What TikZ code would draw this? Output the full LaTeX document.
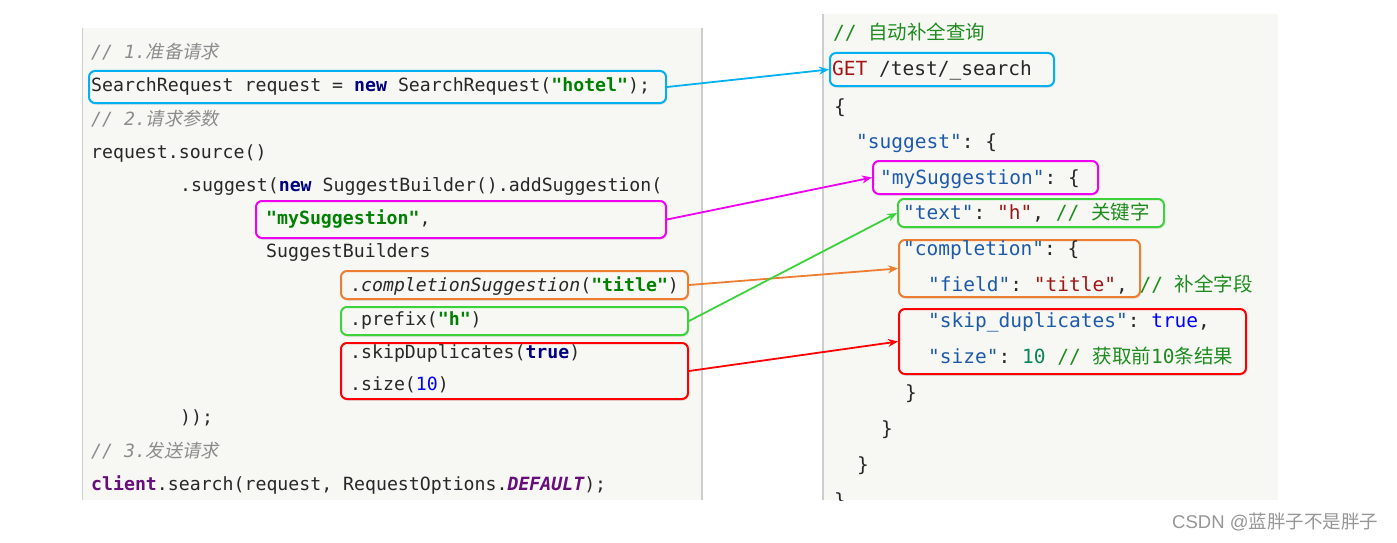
\documentclass[tikz,border=0pt]{standalone}
\usepackage{fontspec}
\setmainfont{Liberation Sans}
\setmonofont{DejaVu Sans Mono}
\newfontfamily\cjk{Noto Sans CJK SC}
\newfontfamily\cjkit{Noto Sans CJK SC}[FakeSlant=0.2]
\usetikzlibrary{arrows.meta,shadows}
\definecolor{panelbg}{RGB}{247,248,244}
\definecolor{panelline}{RGB}{205,205,205}
\definecolor{codeblack}{RGB}{40,40,40}
\definecolor{kwblue}{RGB}{0,0,128}
\definecolor{strgreen}{RGB}{0,128,0}
\definecolor{numblue}{RGB}{0,0,255}
\definecolor{jpurple}{RGB}{102,14,122}
\definecolor{cmgray}{RGB}{140,140,140}
\definecolor{rkey}{RGB}{30,90,170}
\definecolor{rstr}{RGB}{163,21,21}
\definecolor{rtrue}{RGB}{0,0,255}
\definecolor{rnum}{RGB}{9,134,88}
\definecolor{rgreen}{RGB}{30,140,30}
\definecolor{cblue}{RGB}{0,176,240}
\definecolor{cmag}{RGB}{240,0,240}
\definecolor{corange}{RGB}{237,125,49}
\definecolor{cgreen}{RGB}{60,210,60}
\definecolor{cred}{RGB}{255,0,0}
\definecolor{wmgray}{RGB}{150,150,150}
\newcommand\kw[1]{{\bfseries\color{kwblue}#1}}
\newcommand\strg[1]{{\bfseries\color{strgreen}#1}}
\newcommand\jcm[2]{{\itshape\color{cmgray}#1}{\cjkit\color{cmgray}#2}}
\newcommand\rk[1]{{\color{rkey}#1}}
\newcommand\rs[1]{{\color{rstr}#1}}
\begin{document}
\begin{tikzpicture}[x=1pt,y=-1pt,
  lcode/.style={anchor=base west, inner sep=0pt, font=\ttfamily\fontsize{18.2}{22}\selectfont, text=codeblack},
  rcode/.style={anchor=base west, inner sep=0pt, font=\ttfamily\fontsize{19.5}{22}\selectfont, text=codeblack},
  hl/.style={draw=#1, fill=panelbg, line width=2pt, rounded corners=6pt, anchor=north west, inner sep=0pt,
    drop shadow={opacity=0.18, shadow xshift=0.8pt, shadow yshift=-1.8pt}},
  link/.style={draw=#1, line width=1.8pt, -{Stealth[length=10pt,width=8pt]}},
]
\useasboundingbox (0,0) rectangle (1397,543);
% panels
\fill[panelbg] (82,28) rectangle (702,500);
\draw[panelline, line width=1.5pt] (82.5,28) -- (82.5,500);
\draw[panelline, line width=2pt] (702,28) -- (702,500);
\fill[panelbg] (822,14) rectangle (1278,500);
\draw[panelline, line width=2pt] (823,14) -- (823,500);

% highlight boxes left
\node[hl=cblue, minimum width=577pt, minimum height=32pt] (lb) at (88,70) {};
\node[hl=cmag, minimum width=410pt, minimum height=37pt] (lm) at (255,200) {};
\node[hl=corange, minimum width=347pt, minimum height=28pt] (lo) at (340,270) {};
\node[hl=cgreen, minimum width=347pt, minimum height=28pt] (lg) at (340,306) {};
\node[hl=cred, minimum width=347pt, minimum height=56pt] (lr) at (340,342) {};
% highlight boxes right
\node[hl=cblue, minimum width=224pt, minimum height=33pt] (rb) at (829,52) {};
\node[hl=cmag, minimum width=225pt, minimum height=33pt] (rm) at (872,160) {};
\node[hl=cgreen, minimum width=266pt, minimum height=28pt] (rg) at (897,198) {};
\node[hl=corange, minimum width=241pt, minimum height=57pt] (ro) at (898,239) {};
\node[hl=cred, minimum width=347pt, minimum height=65pt] (rr) at (898,308) {};

% left code
\node[lcode] (l1) at (91,59) {\jcm{// 1.}{准备请求}};
\node[lcode] (l2) at (91,92) {SearchRequest request = \kw{new} SearchRequest(\strg{"hotel"});};
\node[lcode] (l3) at (91,125) {\jcm{// 2.}{请求参数}};
\node[lcode] (l4) at (91,158) {request.source()};
\node[lcode] (l5) at (180,191) {.suggest(\kw{new} SuggestBuilder().addSuggestion(};
\node[lcode] (l6) at (266,224) {\strg{"mySuggestion"},};
\node[lcode] (l7) at (266,257) {SuggestBuilders};
\node[lcode] (l8) at (350,291) {.\textit{completionSuggestion}(\strg{"title"})};
\node[lcode] (l9) at (350,325) {.prefix(\strg{"h"})};
\node[lcode] (l10) at (350,358) {.skipDuplicates(\kw{true})};
\node[lcode] (l11) at (350,390) {.size({\color{numblue}10})};
\node[lcode] (l12) at (180,423) {));};
\node[lcode] (l13) at (91,457) {\jcm{// 3.}{发送请求}};
\node[lcode] (l14) at (91,490) {{\bfseries\color{jpurple}client}.search(request, RequestOptions.{\bfseries\itshape\color{jpurple}DEFAULT});};

% right code
\node[rcode] (r1) at (833,40) {{\color{rgreen}// }{\cjk\color{rgreen}自动补全查询}};
\node[rcode] (r2) at (832,76) {{\color{rstr}GET} /test/\_search};
\node[rcode] (r3) at (834,113) {\{};
\node[rcode] (r4) at (856,148) {\rk{"suggest"}: \{};
\node[rcode] (r5) at (880,184) {\rk{"mySuggestion"}: \{};
\node[rcode] (r6) at (903,219) {\rk{"text"}: \rs{"h"}, {\color{rgreen}// {\cjk 关键字}}};
\node[rcode] (r7) at (903,255) {\rk{"completion"}: \{};
\node[rcode] (r8) at (928,291) {\rk{"field"}: \rs{"title"}, {\color{rgreen}// {\cjk 补全字段}}};
\node[rcode] (r9) at (928,327) {\rk{"skip\_duplicates"}: {\color{rtrue}true},};
\node[rcode] (r10) at (928,363) {\rk{"size"}: {\color{rnum}10} {\color{rgreen}// {\cjk 获取前}10{\cjk 条结果}}};
\node[rcode] (r11) at (905,399) {\}};
\node[rcode] (r12) at (881,435) {\}};
\node[rcode] (r13) at (857,471) {\}};
\begin{scope}
\clip (822,14) rectangle (1278,500);
\node[rcode] (r14) at (834,507) {\}};
\end{scope}

% connectors
\draw[link=cblue] (lb.east) -- (rb.west);
\draw[link=cmag] (lm.east) -- (rm.west);
\draw[link=corange] (lo.east) -- (ro.west);
\draw[link=cgreen] (lg.east) -- (rg.west);
\draw[link=cred] (lr.east) -- (rr.west);

% watermark
\node[anchor=west, inner sep=0pt, font=\fontsize{18.5}{20}\selectfont, text=wmgray] (wm) at (1172,522) {CSDN @{\cjk 蓝胖子不是胖子}};
\end{tikzpicture}
\end{document}
